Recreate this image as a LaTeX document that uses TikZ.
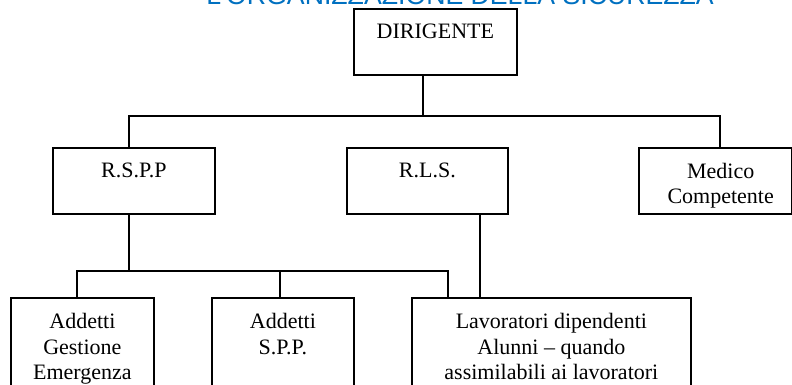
\documentclass[tikz,border=0pt]{standalone}
\usepackage{fontspec}
\setmainfont{Liberation Serif}
\newfontfamily\titlefont{Liberation Sans}
\usetikzlibrary{positioning}
\pgfdeclarelayer{nodelayer}
\pgfdeclarelayer{edgelayer}
\pgfsetlayers{edgelayer,nodelayer,main}
\definecolor{titleblue}{RGB}{0,112,192}
\tikzstyle{box}=[fill=white, draw=black, shape=rectangle, line width=1.3pt, anchor=north west, inner sep=0pt, minimum height=49.5pt]
\tikzstyle{tall box}=[box, minimum height=90pt]
\tikzstyle{box text}=[anchor=north, yshift=-12pt, align=center, inner sep=0pt, font=\fontsize{16.5}{19.1}\selectfont]
\tikzstyle{title}=[anchor=base, inner sep=0pt, text=titleblue, font=\titlefont\fontsize{20}{24}\selectfont]
\tikzstyle{none}=[fill=none, draw=none, shape=circle, scale=0]
\tikzstyle{wire}=[draw=black, line width=1.3pt]

\begin{document}
\begin{tikzpicture}[x=0.75pt, y=-0.75pt]
	\useasboundingbox (0, 0) rectangle (792, 385);
	\begin{pgfonlayer}{nodelayer}
		\clip (0, 0) rectangle (792, 385);
		\node [style=title] (15) at (460, 5) {L'ORGANIZZAZIONE DELLA SICUREZZA};
		\node [style=box, minimum width=122.25pt, label={[box text]north:DIRIGENTE}] (0) at (353, 8) {};
		\node [style=box, minimum width=121.5pt, label={[box text]north:R.S.P.P}] (1) at (52, 147) {};
		\node [style=box, minimum width=120.75pt, label={[box text]north:R.L.S.}] (2) at (346, 147) {};
		\node [style=box, minimum width=114.75pt, label={[box text, xshift=4pt]north:Medico\\Competente}] (3) at (638, 147) {};
		\node [style=tall box, minimum width=107.25pt, label={[box text]north:Addetti\\Gestione\\Emergenza}] (4) at (10, 297) {};
		\node [style=tall box, minimum width=106.5pt, label={[box text]north:Addetti\\S.P.P.}] (5) at (211, 297) {};
		\node [style=tall box, minimum width=209.25pt, label={[box text]north:Lavoratori dipendenti\\Alunni -- quando\\assimilabili ai lavoratori}] (6) at (411, 297) {};
		\node [style=none] (7) at (423, 116) {};
		\node [style=none] (8) at (129, 116) {};
		\node [style=none] (9) at (720, 116) {};
		\node [style=none] (10) at (129, 271) {};
		\node [style=none] (11) at (77, 271) {};
		\node [style=none] (12) at (280, 271) {};
		\node [style=none] (13) at (448, 271) {};
		\node [style=none] (14) at (480, 250) {};
	\end{pgfonlayer}
	\begin{pgfonlayer}{edgelayer}
		\clip (0, 0) rectangle (792, 385);
		\draw [style=wire] (0.south -| 7.center) to (7.center);
		\draw [style=wire] (1.north -| 8.center) to (8.center) to (9.center) to (3.north -| 9.center);
		\draw [style=wire] (1.south -| 10.center) to (10.center);
		\draw [style=wire] (4.north -| 11.center) to (11.center) to (13.center) to (6.north -| 13.center);
		\draw [style=wire] (12.center) to (5.north -| 12.center);
		\draw [style=wire] (2.south -| 14.center) to (6.north -| 14.center);
	\end{pgfonlayer}
\end{tikzpicture}
\end{document}
